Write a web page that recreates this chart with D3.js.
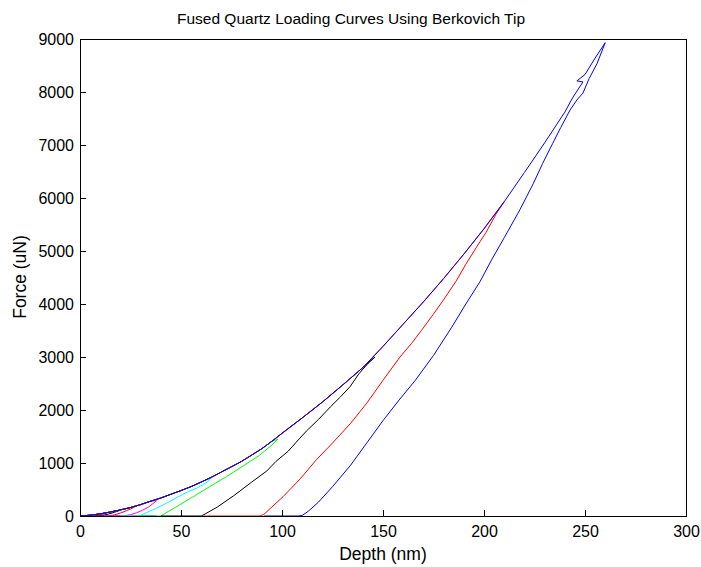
<!DOCTYPE html>
<html lang="en">
<head>
<meta charset="UTF-8">
<title>Fused Quartz Loading Curves Using Berkovich Tip</title>
<style>
    body { margin: 0; background: #fff; }
    svg { display: block; font-family: "Liberation Sans", Arial, sans-serif; }
    .tick line { stroke: #000; }
    .tick text { fill: #000; font-size: 16px; }
    .curve { fill: none; stroke-width: 1; }
</style>
</head>
<body>
<div id="chart"></div>
<script src="https://d3js.org/d3.v7.min.js"></script>
<script>
// axis ticks
const xTicks = [0, 50, 100, 150, 200, 250, 300];
const yTicks = [0, 1000, 2000, 3000, 4000, 5000, 6000, 7000, 8000, 9000];

// common loading branch (depth nm, force uN)
const loadDepth = [0, 5, 10, 15, 20, 25, 30, 35, 40, 45, 50, 55, 60, 65, 70, 75, 80, 85, 90, 95, 100, 110, 120, 130, 140, 150, 160, 170, 180, 190, 200, 210, 220, 230, 240];
const loadForce = [0, 15, 40, 75, 115, 160, 215, 280, 340, 410, 480, 555, 640, 730, 830, 930, 1030, 1150, 1270, 1410, 1560, 1850, 2150, 2470, 2800, 3200, 3620, 4040, 4480, 4940, 5420, 5930, 6480, 7040, 7620];

// extra wiggle at the top of the largest loading
const blueTopDepth = [244, 249, 246, 250, 255];
const blueTopForce = [7900, 8190, 8210, 8330, 8640];

// unloading branches, from peak down to zero force and back along the axis
const blueUnloadDepth = [260, 256, 252, 249, 246, 242.6, 238, 234, 229, 224.5, 217.8, 210, 204, 198, 191, 184, 175, 166, 158, 150, 142, 134, 125, 118, 113, 110, 108, 91];
const blueUnloadForce = [8930, 8540, 8250, 7980, 7850, 7660, 7330, 7030, 6650, 6280, 5780, 5250, 4850, 4420, 4000, 3560, 3030, 2560, 2190, 1800, 1380, 960, 553, 260, 90, 10, 0, 0];

const redUnloadDepth = [210, 206, 201, 196.4, 191, 186.5, 180, 174.8, 169, 164, 158.4, 150, 142, 134, 125, 117, 109, 100.5, 95, 91, 89, 61];
const redUnloadForce = [5930, 5700, 5350, 5080, 4750, 4450, 4080, 3800, 3500, 3250, 3000, 2560, 2130, 1750, 1377, 1060, 700, 364, 170, 30, 0, 0];

const blackUnloadDepth = [146, 142.6, 138, 133.7, 129, 124, 118, 112, 107, 103, 97, 92.5, 85, 76, 68, 62, 60, 40];
const blackUnloadForce = [3000, 2880, 2680, 2440, 2250, 2060, 1820, 1600, 1390, 1220, 1030, 850, 640, 380, 170, 40, 0, 0];

const greenUnloadDepth = [98, 95, 89, 81, 72.5, 64, 56, 48, 43, 40, 28];
const greenUnloadForce = [1450, 1340, 1150, 950, 742, 550, 364, 180, 70, 0, 0];

const cyanUnloadDepth = [65, 63, 58, 53, 48, 43, 38, 33, 30, 28, 20];
const cyanUnloadForce = [720, 640, 530, 450, 350, 245, 150, 65, 10, 0, 0];

const magentaUnloadDepth = [38, 36, 34, 31, 28, 25, 22, 20, 12];
const magentaUnloadForce = [290, 230, 170, 110, 60, 25, 5, 0, 0];

const smallRedUnloadDepth = [28, 26, 23, 20, 17, 14, 0];
const smallRedUnloadForce = [190, 150, 100, 55, 20, 0, 0];

const smallBlackUnloadDepth = [20, 17, 14, 11, 8, 0];
const smallBlackUnloadForce = [110, 70, 35, 10, 0, 0];

const smallBlueUnloadDepth = [12, 10, 8, 6, 0, 38];
const smallBlueUnloadForce = [45, 30, 15, 0, 0, 0];

const width = 701, height = 567;
const x = d3.scaleLinear().domain([0, 300]).range([80, 686]);
const y = d3.scaleLinear().domain([0, 9000]).range([516, 39]);

const svg = d3.select('#chart').append('svg')
    .attr('width', width)
    .attr('height', height);

svg.append('rect').attr('width', width).attr('height', height).attr('fill', '#fff');

svg.append('clipPath').attr('id', 'plot-clip')
    .append('rect')
    .attr('x', x(0)).attr('y', y(9000))
    .attr('width', x(300) - x(0)).attr('height', y(0) - y(9000));

// zip depth/force arrays into points
function zip(ds, fs) {
    return ds.map((d, i) => [d, fs[i]]);
}

// loading branch up to the peak, then the unloading branch
function curve(unDepth, unForce, top) {
    const peak = unDepth[0];
    const load = zip(loadDepth, loadForce).filter(p => p[0] < peak);
    return load.concat(top || [], zip(unDepth, unForce));
}

const curves = [
    { color: '#000000', pts: curve(smallBlackUnloadDepth, smallBlackUnloadForce) },
    { color: '#0000ff', pts: curve(smallBlueUnloadDepth, smallBlueUnloadForce) },
    { color: '#ff0000', pts: curve(smallRedUnloadDepth, smallRedUnloadForce) },
    { color: '#ff00ff', pts: curve(magentaUnloadDepth, magentaUnloadForce) },
    { color: '#00ffff', pts: curve(cyanUnloadDepth, cyanUnloadForce) },
    { color: '#00ff00', pts: curve(greenUnloadDepth, greenUnloadForce) },
    { color: '#000000', pts: curve(blackUnloadDepth, blackUnloadForce) },
    { color: '#ff0000', pts: curve(redUnloadDepth, redUnloadForce) },
    { color: '#0000ff', pts: curve(blueUnloadDepth, blueUnloadForce, zip(blueTopDepth, blueTopForce)) }
];

const line = d3.line().x(d => x(d[0])).y(d => y(d[1]));

svg.append('g').attr('clip-path', 'url(#plot-clip)')
    .selectAll('path')
    .data(curves)
    .enter()
    .append('path')
    .attr('class', 'curve')
    .attr('stroke', d => d.color)
    .attr('d', d => line(d.pts));

// axes, ticks pointing inward like matlab
const xAxis = svg.append('g')
    .attr('transform', `translate(0,${y(0)})`)
    .call(d3.axisBottom(x).tickValues(xTicks).tickFormat(d3.format('d')).tickSize(-6).tickPadding(10).tickSizeOuter(0));
xAxis.select('.domain').remove();

const yAxis = svg.append('g')
    .attr('transform', `translate(${x(0)},0)`)
    .call(d3.axisLeft(y).tickValues(yTicks).tickFormat(d3.format('d')).tickSize(-6).tickPadding(6).tickSizeOuter(0));
yAxis.select('.domain').remove();

// box
svg.append('rect')
    .attr('x', x(0) + 0.5).attr('y', y(9000) + 0.5)
    .attr('width', x(300) - x(0)).attr('height', y(0) - y(9000))
    .attr('fill', 'none').attr('stroke', '#000').attr('stroke-width', 1);

svg.append('text')
    .attr('x', 351).attr('y', 24)
    .attr('text-anchor', 'middle')
    .attr('font-size', 15.5)
    .text('Fused Quartz Loading Curves Using Berkovich Tip');

svg.append('text')
    .attr('x', 383).attr('y', 560)
    .attr('text-anchor', 'middle')
    .attr('font-size', 17.5)
    .text('Depth (nm)');

svg.append('text')
    .attr('transform', 'translate(26,277) rotate(-90)')
    .attr('text-anchor', 'middle')
    .attr('font-size', 17.5)
    .text('Force (uN)');
</script>
</body>
</html>
